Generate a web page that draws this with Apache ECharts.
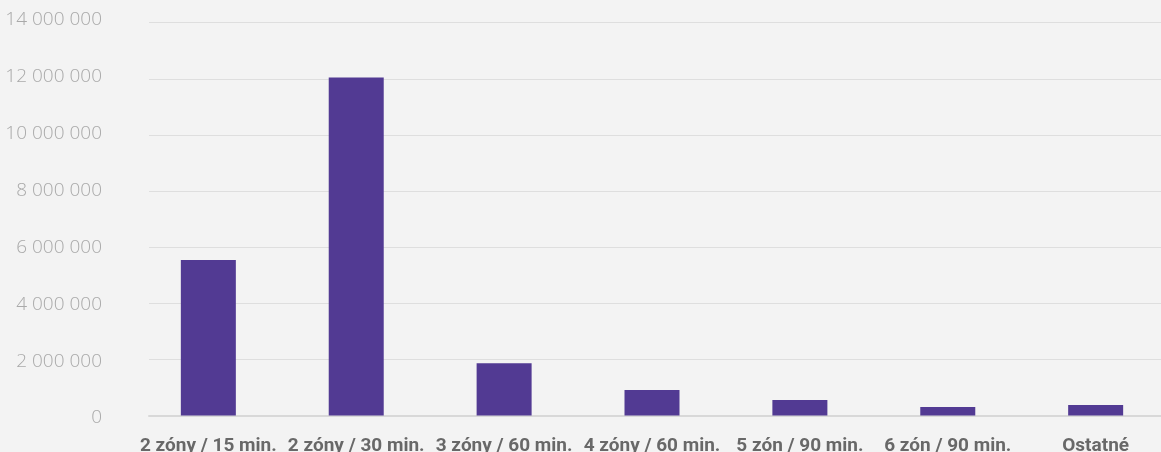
<!DOCTYPE html>
<html>
<head>
<meta charset="utf-8">
<script src="https://cdn.jsdelivr.net/npm/echarts@6/dist/echarts.min.js"></script>
<style>
html,body{margin:0;padding:0;background:#f3f3f3;}
#chart{width:1161px;height:452px;}
</style>
</head>
<body>
<div id="chart"></div>
<script>
var categories = ['2 zóny / 15 min.', '2 zóny / 30 min.', '3 zóny / 60 min.', '4 zóny / 60 min.', '5 zón / 90 min.', '6 zón / 90 min.', 'Ostatné'];
var values = [5540000, 12050000, 1860000, 910000, 550000, 300000, 375000];
var yTickValues = [0, 2000000, 4000000, 6000000, 8000000, 10000000, 12000000, 14000000];
var yTickLabels = ['0', '2 000 000', '4 000 000', '6 000 000', '8 000 000', '10 000 000', '12 000 000', '14 000 000'];

(function () {
var chart = echarts.init(document.getElementById('chart'), null, {renderer: 'canvas'});
var gridTop = 22.7, gridBottom = 36.5;
var nb = {outerBoundsMode: 'none', containLabel: false};
function g(o) { for (var k in nb) o[k] = nb[k]; return o; }
var labelFmt = function (v) { var i = yTickValues.indexOf(v); return i >= 0 ? yTickLabels[i] : ''; };
var option = {
  backgroundColor: '#f3f3f3',
  animation: false,
  grid: [
    g({left: 149, right: 0, top: gridTop, bottom: gridBottom}),
    g({left: 134.4, width: 1035.2, top: gridTop, bottom: gridBottom}),
    g({left: 149, right: 0, top: 20, bottom: 34})
  ],
  xAxis: [
    {
      gridIndex: 0, type: 'category', data: categories,
      axisLine: {show: true, lineStyle: {color: '#d8d8d8', width: 2}},
      axisTick: {show: false}, axisLabel: {show: false}, splitLine: {show: false}
    },
    {
      gridIndex: 1, type: 'category', data: categories,
      axisLine: {show: false}, axisTick: {show: false},
      axisLabel: {
        interval: 0, margin: 21,
        fontFamily: 'Roboto', fontWeight: 'bold', fontSize: 19, color: '#686868'
      }
    },
    {
      gridIndex: 2, type: 'category', data: categories, show: false
    }
  ],
  yAxis: [
    {
      gridIndex: 0, type: 'value', min: 0, max: 14000000, interval: 2000000,
      axisLine: {show: false}, axisTick: {show: false}, axisLabel: {show: false},
      splitLine: {lineStyle: {color: '#dedede', width: 1}}
    },
    {
      gridIndex: 1, type: 'value', min: 0, max: 14000000, interval: 2000000, show: false,
      splitLine: {show: false}
    },
    {
      gridIndex: 2, type: 'value', min: 0, max: 14000000, interval: 2000000,
      axisLine: {show: false}, axisTick: {show: false}, splitLine: {show: false},
      axisLabel: {
        margin: 47, fontFamily: 'Open Sans', fontWeight: 300, fontSize: 19, color: '#a9a9a9',
        formatter: labelFmt
      }
    }
  ],
  series: [{
    type: 'bar', xAxisIndex: 1, yAxisIndex: 1, data: values,
    barWidth: 55, itemStyle: {color: '#523a93'}
  }]
};
chart.setOption(option);
})();
</script>
</body>
</html>
